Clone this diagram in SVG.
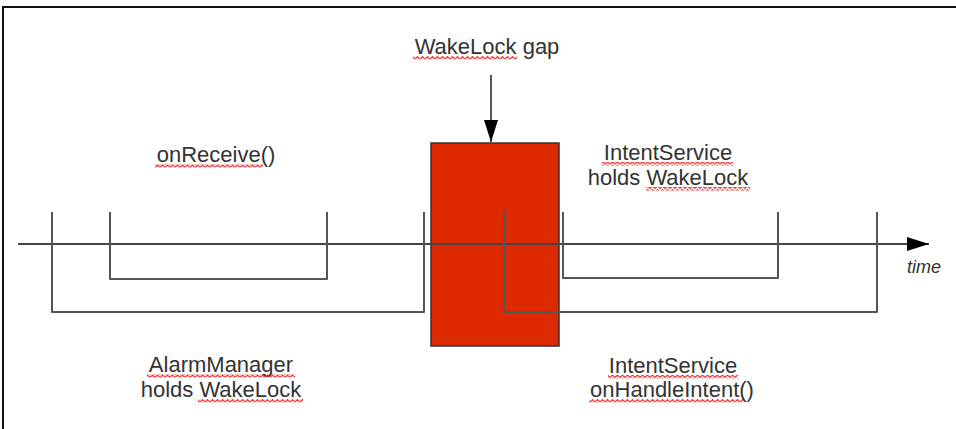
<svg xmlns="http://www.w3.org/2000/svg" width="956" height="429" viewBox="0 0 956 429">
  <defs>
    <style>
      .lbl { font-family: "Liberation Sans", Arial, sans-serif; font-size: 22px; fill: #333; text-anchor: middle; }
      .time { font-family: "Liberation Sans", Arial, sans-serif; font-size: 18px; font-style: italic; fill: #333; }
      .br { fill: none; stroke: #555; stroke-width: 2; stroke-linejoin: round; }
      .ax { fill: none; stroke: #444; stroke-width: 2; }
      .sq { fill: url(#squig); }
    </style>
    <pattern id="squig" x="0" y="0" width="5" height="3.5" patternUnits="userSpaceOnUse">
      <path d="M0,3 L2.5,0.6 L5,3" fill="none" stroke="#e22" stroke-width="1.1"/>
    </pattern>
    <marker id="tri" viewBox="0 0 22 14" refX="22" refY="7" markerWidth="22" markerHeight="14" markerUnits="userSpaceOnUse" orient="auto">
      <path d="M0,0 L22,7 L0,14 Z" fill="#000"/>
    </marker>
  </defs>

  <rect width="956" height="429" fill="#fff"/>
  <g id="frame">
    <path d="M3,429 L3,7 L956,7" fill="none" stroke="#111" stroke-width="2"/>
  </g>

  <g id="gap">
    <rect x="431" y="143" width="128" height="203" fill="#dd2900" stroke="#333" stroke-width="1.5"/>
  </g>

  <g id="connectors">
    <line class="ax" x1="18" y1="244" x2="929" y2="244" marker-end="url(#tri)"/>
    <line x1="491" y1="75" x2="491" y2="142" stroke="#222" stroke-width="1.5" marker-end="url(#tri)"/>
  </g>

  <g id="alarm-manager">
    <path class="br" d="M52,212 L52,312 L424,312 L424,212"/>
    <text class="lbl" x="221" y="372">AlarmManager</text>
    <text class="lbl" x="221" y="397">holds WakeLock</text>
    <rect class="sq" x="147" y="374" width="148" height="3.5"/>
    <rect class="sq" x="198" y="399" width="105" height="3.5"/>
  </g>

  <g id="on-receive">
    <path class="br" d="M110,212 L110,279 L327,279 L327,212"/>
    <text class="lbl" x="216" y="162">onReceive()</text>
    <rect class="sq" x="155" y="164" width="108" height="3.5"/>
  </g>

  <g id="intent-service-holds">
    <path class="br" d="M563,212 L563,278 L778,278 L778,212"/>
    <text class="lbl" x="668" y="160">IntentService</text>
    <text class="lbl" x="668" y="185">holds WakeLock</text>
    <rect class="sq" x="602" y="162" width="131" height="3.5"/>
    <rect class="sq" x="646" y="187" width="104" height="3.5"/>
  </g>

  <g id="on-handle-intent">
    <path class="br" d="M504,212 L504,312 L877,312 L877,212"/>
    <text class="lbl" x="673" y="373">IntentService</text>
    <text class="lbl" x="672" y="397">onHandleIntent()</text>
    <rect class="sq" x="608" y="375" width="130" height="3.5"/>
    <rect class="sq" x="589" y="399" width="154" height="3.5"/>
  </g>

  <g id="wakelock-gap-label">
    <text class="lbl" x="487" y="54">WakeLock gap</text>
    <rect class="sq" x="413" y="56" width="104" height="3.5"/>
  </g>

  <g id="time-label">
    <text class="time" x="907" y="273">time</text>
  </g>
</svg>
